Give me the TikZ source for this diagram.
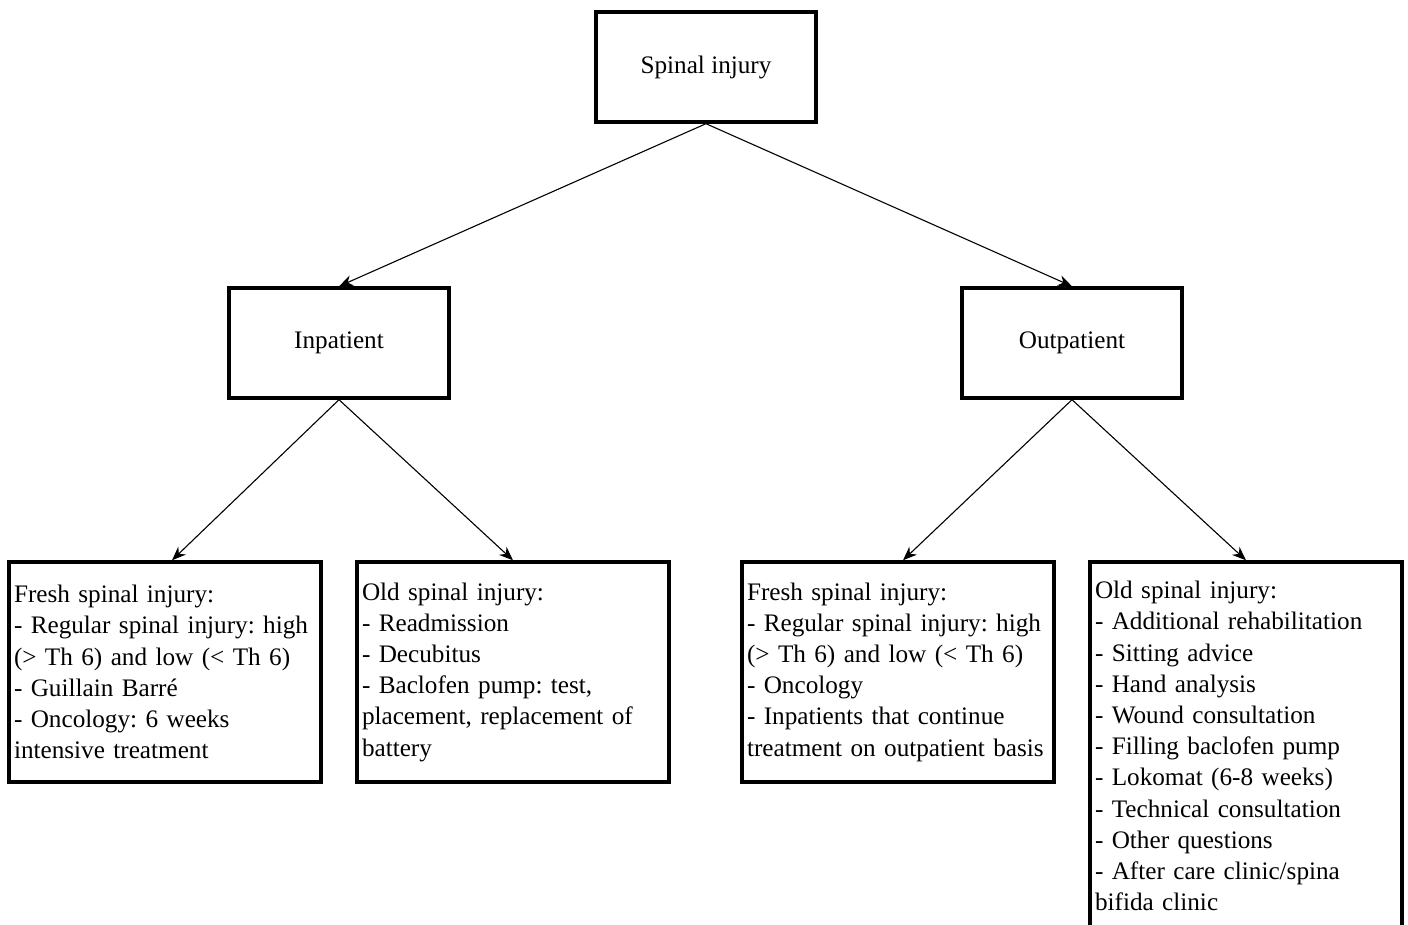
\documentclass[tikz,border=0pt]{standalone}
\usepackage{fontspec}
\setmainfont{Liberation Serif}
\usetikzlibrary{arrows.meta,positioning}

\begin{document}
\frenchspacing
\begin{tikzpicture}[x=0.5pt,y=-0.5pt,
  box/.style={draw,line width=1.7pt,minimum width=110pt,minimum height=55pt,
    font=\fontsize{12.6}{15.6}\selectfont},
  listbox/.style={draw,line width=1.7pt,text width=151pt,inner xsep=2.5pt,
    align=left,minimum height=110pt,font=\fontsize{12.6}{15.6}\selectfont},
  link/.style={-{Stealth[length=7pt,width=5.5pt]},line width=0.55pt}]
  \useasboundingbox (0,0) rectangle (1408,925);
  \clip (0,0) rectangle (1408,925);
  % levels
  \node[box] (spine) at (706,67) {Spinal injury};
  \node[box] (inpat) at (339,343) {Inpatient};
  \node[box] (outpat) at (1072,343) {Outpatient};
  % leaves
  \node[listbox] (infresh) at (165,672) {Fresh spinal injury:\\
    - Regular spinal injury: high\\
    (> Th 6) and low (< Th 6)\\
    - Guillain Barré\\
    - Oncology: 6 weeks\\
    intensive treatment};
  \node[listbox] (inold) at (513,672) {Old spinal injury:\\
    - Readmission\\
    - Decubitus\\
    - Baclofen pump: test,\\
    placement, replacement of\\
    battery};
  \node[listbox] (outfresh) at (898,672) {Fresh spinal injury:\\
    - Regular spinal injury: high\\
    (> Th 6) and low (< Th 6)\\
    - Oncology\\
    - Inpatients that continue\\
    treatment on outpatient basis};
  \node[listbox,minimum height=184pt] (outold) at (1246,746) {Old spinal injury:\\
    - Additional rehabilitation\\
    - Sitting advice\\
    - Hand analysis\\
    - Wound consultation\\
    - Filling baclofen pump\\
    - Lokomat (6-8 weeks)\\
    - Technical consultation\\
    - Other questions\\
    - After care clinic/spina\\
    bifida clinic};
  \draw[link] (spine.south) -- (inpat.north);
  \draw[link] (spine.south) -- (outpat.north);
  \draw[link] (inpat.south) -- ([xshift=3.5pt]infresh.north);
  \draw[link] (inpat.south) -- (inold.north);
  \draw[link] (outpat.south) -- ([xshift=2.5pt]outfresh.north);
  \draw[link] (outpat.south) -- (outold.north);
\end{tikzpicture}
\end{document}
